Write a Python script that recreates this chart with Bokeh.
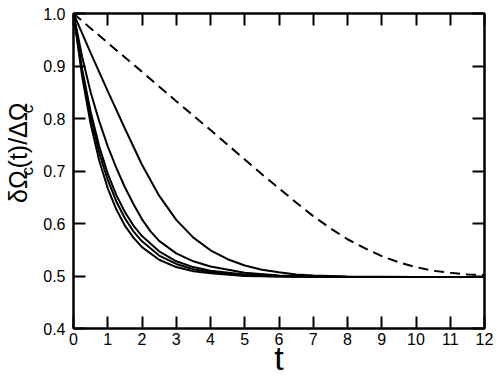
from math import pi
from bokeh.plotting import figure
from bokeh.layouts import row
from bokeh.models import Range1d, FixedTicker, LinearAxis
from bokeh.core.properties import value
from bokeh.embed import file_html
from bokeh.resources import INLINE

# ---------------- data ----------------
x_ticks = [0, 1, 2, 3, 4, 5, 6, 7, 8, 9, 10, 11, 12]
x_tick_labels = ["0", "1", "2", "3", "4", "5", "6", "7", "8", "9", "10", "11", "12"]
y_ticks = [0.4, 0.5, 0.6, 0.7, 0.8, 0.9, 1.0]
y_tick_labels = ["0.4", "0.5", "0.6", "0.7", "0.8", "0.9", "1.0"]

# fast curves (three nearly coinciding) and the middle curve
t_fast = [0, 0.25, 0.5, 0.75, 1.0, 1.25, 1.5, 1.75, 2.0, 2.5, 3.0, 3.5, 4.0, 5.0, 6.0, 8.0, 10.0, 12.0]
fast_a = [1.0, 0.881, 0.790, 0.720, 0.667, 0.627, 0.596, 0.573, 0.555, 0.531, 0.517, 0.509, 0.505, 0.500, 0.499, 0.498, 0.498, 0.498]
fast_b = [1.0, 0.889, 0.803, 0.735, 0.683, 0.642, 0.610, 0.585, 0.566, 0.539, 0.523, 0.513, 0.507, 0.501, 0.499, 0.498, 0.498, 0.498]
fast_c = [1.0, 0.895, 0.813, 0.747, 0.695, 0.654, 0.622, 0.596, 0.576, 0.547, 0.528, 0.517, 0.510, 0.503, 0.500, 0.498, 0.498, 0.498]

t_mid = [0, 0.25, 0.5, 0.75, 1.0, 1.25, 1.5, 1.75, 2.0, 2.25, 2.5, 3.0, 3.5, 4.0, 5.0, 6.0, 8.0, 10.0, 12.0]
mid = [1.0, 0.918, 0.850, 0.795, 0.747, 0.706, 0.669, 0.637, 0.608, 0.585, 0.567, 0.543, 0.528, 0.518, 0.506, 0.501, 0.498, 0.498, 0.498]

t_slow = [0, 0.5, 1.0, 1.5, 2.0, 2.5, 3.0, 3.5, 4.0, 4.5, 5.0, 5.5, 6.0, 6.5, 7.0, 8.0, 10.0, 12.0]
slow = [1.0, 0.925, 0.852, 0.781, 0.712, 0.653, 0.607, 0.573, 0.549, 0.532, 0.520, 0.512, 0.507, 0.503, 0.501, 0.499, 0.498, 0.498]

t_dash = [0, 1, 2, 3, 4, 5, 5.5, 6, 6.5, 7, 7.5, 8, 8.5, 9, 9.5, 10, 10.5, 11, 11.5, 12]
dashed = [1.0, 0.944, 0.889, 0.833, 0.778, 0.722, 0.694, 0.667, 0.640, 0.614, 0.591, 0.570, 0.553, 0.538, 0.526, 0.517, 0.510, 0.506, 0.503, 0.502]

y_title_main = ["δΩ", "(t)/ΔΩ"]
y_title_sub = ["c", "c"]
x_title = "t"

FONT = "Liberation Sans"

# ---------------- y-axis title panel (with subscripts) ----------------
LAB_W, H = 40, 379
ylab = figure(width=LAB_W, height=H, x_range=Range1d(0, LAB_W), y_range=Range1d(0, H),
              output_backend="svg", toolbar_location=None,
              x_axis_location=None, y_axis_location=None,
              min_border=0, min_border_left=0, min_border_right=0,
              min_border_top=0, min_border_bottom=0)
ylab.grid.visible = False
ylab.outline_line_color = None
# top-left corners of the rotated text boxes, in pixels of this small panel
ylab.text(x=[3.9, 3.9], y=[H - 228.0, H - 186.4], text=y_title_main, angle=pi / 2,
          text_align="left", text_baseline="top", text_font=value(FONT),
          text_font_size="25px", text_color="black")
ylab.text(x=[17.6, 17.6], y=[H - 194.9, H - 119.9], text=y_title_sub, angle=pi / 2,
          text_align="left", text_baseline="top", text_font=value(FONT),
          text_font_size="17px", text_color="black")

# ---------------- main figure ----------------
p = figure(width=499 - LAB_W, height=H, x_range=Range1d(0, 12), y_range=Range1d(0.4, 1.0),
           output_backend="svg", toolbar_location=None,
           min_border_left=33, min_border_right=15, min_border_top=13, min_border_bottom=51)
p.grid.visible = False
p.outline_line_color = "black"
p.outline_line_width = 2

bottom_axis = p.below[0]
left_axis = p.left[0]
top_axis = LinearAxis()
right_axis = LinearAxis()
p.add_layout(top_axis, "above")
p.add_layout(right_axis, "right")

for ax, ticks, labels in [(bottom_axis, x_ticks, x_tick_labels), (top_axis, x_ticks, x_tick_labels),
                          (left_axis, y_ticks, y_tick_labels), (right_axis, y_ticks, y_tick_labels)]:
    ax.ticker = FixedTicker(ticks=ticks)
    ax.major_label_overrides = {t: l for t, l in zip(ticks, labels)}
    ax.axis_line_width = 2
    ax.axis_line_color = "black"
    ax.major_tick_in = 12
    ax.major_tick_out = 0
    ax.major_tick_line_width = 2
    ax.major_tick_line_color = "black"
    ax.minor_tick_line_color = None
    ax.major_label_text_font = FONT
    ax.major_label_text_font_size = "16px"
    ax.major_label_text_color = "black"

for ax in (top_axis, right_axis):
    ax.major_label_text_font_size = "0px"
    ax.major_label_text_color = None
    ax.major_label_standoff = 0

bottom_axis.major_label_standoff = 4
left_axis.major_label_standoff = 8
bottom_axis.axis_label = x_title
bottom_axis.axis_label_text_font = FONT
bottom_axis.axis_label_text_font_size = "34px"
bottom_axis.axis_label_text_font_style = "normal"
bottom_axis.axis_label_text_color = "black"
bottom_axis.axis_label_standoff = -9

lw = 2
p.line(t_fast, fast_a, line_color="black", line_width=lw)
p.line(t_fast, fast_b, line_color="black", line_width=lw)
p.line(t_fast, fast_c, line_color="black", line_width=lw)
p.line(t_mid, mid, line_color="black", line_width=lw)
p.line(t_slow, slow, line_color="black", line_width=lw)
p.line(t_dash, dashed, line_color="black", line_width=lw, line_dash="10 6")

layout = row(ylab, p)
open("out.html", "w").write(file_html(layout, INLINE))
